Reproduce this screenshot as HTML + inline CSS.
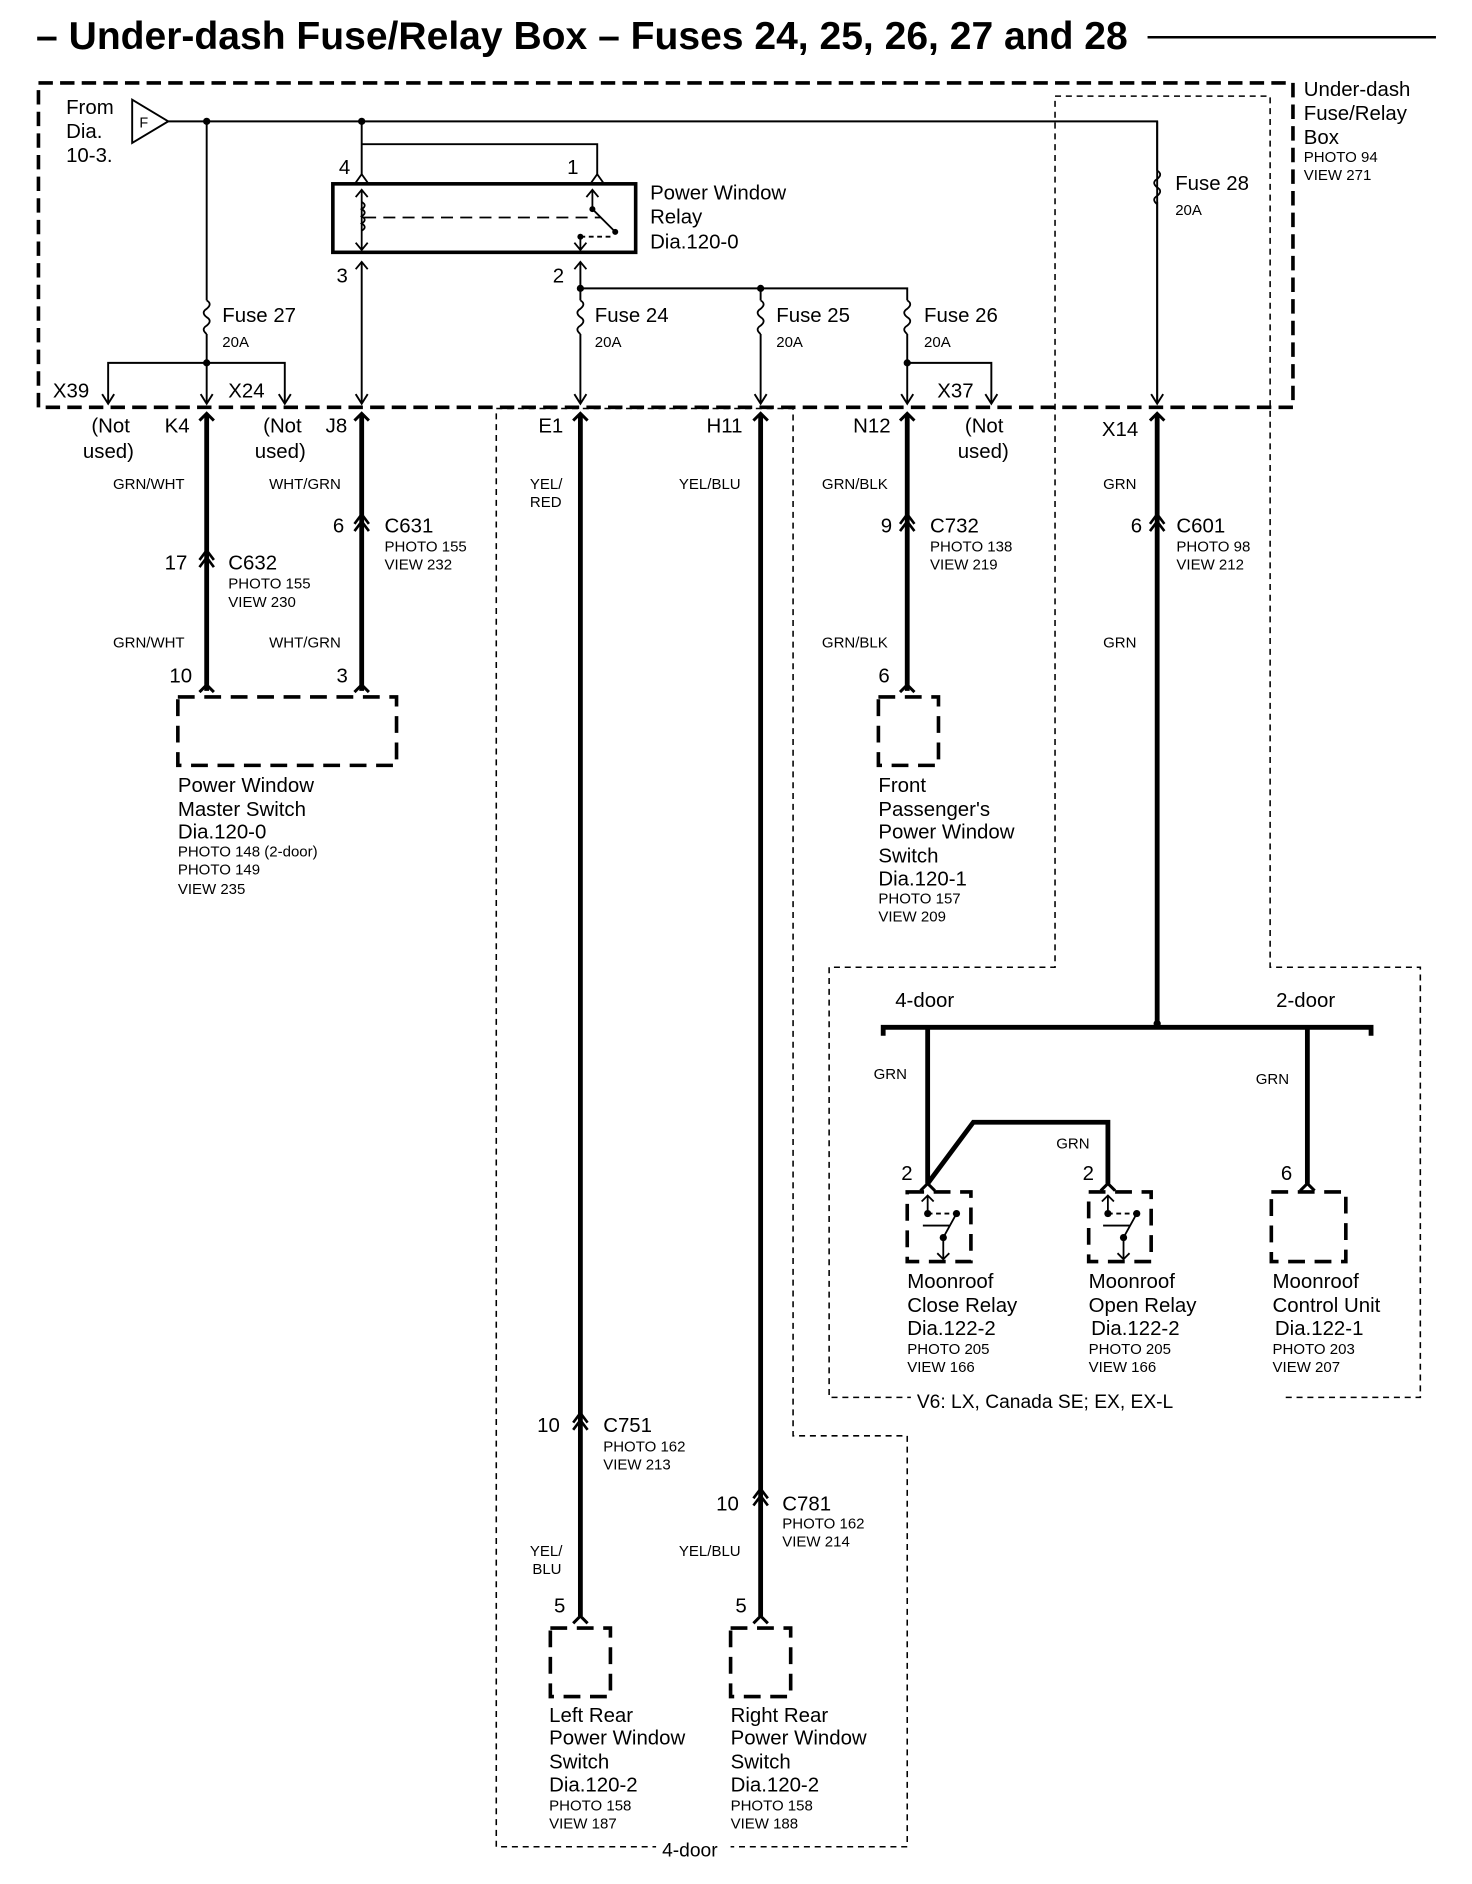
<!DOCTYPE html>
<html><head><meta charset="utf-8"><style>
html,body{margin:0;padding:0;background:#fff}
svg{display:block}
text{font-family:"Liberation Sans",Arial,sans-serif;fill:#000}
.l{font-size:17px}
.s{font-size:12.5px}
.w{font-size:12.5px}
</style></head><body>
<svg width="1472" height="1884" viewBox="0 0 1225 1568" preserveAspectRatio="none" xmlns="http://www.w3.org/2000/svg">
<g fill="none" stroke="#000">
<line x1="955" y1="31" x2="1195" y2="31" stroke-width="2"/>
<rect x="32" y="69" width="1044" height="270" stroke-width="3" stroke-dasharray="12,6"/>
<path d="M878 80 H1057 V805 H1182 V1163 H690 V805 H878 Z" stroke-width="1.3" stroke-dasharray="5,4"/>
<path d="M413 340 H660 V1195 H755 V1537 H413 Z" stroke-width="1.3" stroke-dasharray="5,4"/>
<g stroke-width="1.6">
<path d="M140 101 H963 V335"/>
<path d="M110 83 L140 101 L110 119 Z"/>
<path d="M172 101 V250 M172 278 V335"/>
<path d="M90 335 V302 H237 V335"/>
<path d="M301 101 V120 H497 V145 M301 120 V145"/>
<path d="M301 218 V335"/>
<path d="M483 218 V250 M483 278 V335"/>
<path d="M483 240 H755 V250 M755 278 V335"/>
<path d="M633 240 V250 M633 278 V335"/>
<path d="M755 302 H825 V335"/>
<path d="M963 101 V142 M963 168 V335"/>
</g>
<g stroke-width="1.5">
<path d="M172 250 q5 3 0 7 q-5 3 0 7 q5 3 0 7 q-5 3 0 7"/>
<path d="M483 250 q5 3 0 7 q-5 3 0 7 q5 3 0 7 q-5 3 0 7"/>
<path d="M633 250 q5 3 0 7 q-5 3 0 7 q5 3 0 7 q-5 3 0 7"/>
<path d="M755 250 q5 3 0 7 q-5 3 0 7 q5 3 0 7 q-5 3 0 7"/>
<path d="M963 142 q5 3 0 7 q-5 3 0 7 q5 3 0 7 q-5 3 0 7"/>
</g>
<g stroke-width="1.6">
<path d="M85 328 L90 336 L95 328 M232 328 L237 336 L242 328 M820 328 L825 336 L830 328"/>
<path d="M167 328 L172 336 L177 328 M296 328 L301 336 L306 328 M478 328 L483 336 L488 328 M628 328 L633 336 L638 328 M750 328 L755 336 L760 328 M958 328 L963 336 L968 328"/>
</g>
<rect x="277" y="153" width="252" height="57" stroke-width="3"/>
<g stroke-width="1.5">
<path d="M296 152 L301 145 L306 152 M492 152 L497 145 L502 152"/>
<path d="M296 224 L301 218 L306 224 M478 224 L483 218 L488 224"/>
<path d="M301 158 V208 M296 164 L301 158 L306 164 M296 202 L301 208 L306 202"/>
<path d="M301 168 q5 3 0 6 q5 3 0 6 q5 3 0 6 q5 3 0 6"/>
<path d="M303 181 H500" stroke-dasharray="10,6"/>
<path d="M493 158 V174 L512 193 M488 164 L493 158 L498 164"/>
<path d="M483 197 H510" stroke-dasharray="4,3"/>
<path d="M483 197 V208 M478 202 L483 208 L488 202"/>
</g>
<g stroke-width="4">
<path d="M172 345 V575 M301 345 V575 M483 345 V1345 M633 345 V1345 M755 345 V575 M963 345 V852"/>
<path d="M735 862 V855 H1141 V862"/>
<path d="M772 855 V985 M1088 855 V985"/>
<path d="M772 985 L810 934 H922 V985"/>
</g>
<g stroke-width="2.5">
<path d="M166 350 L172 344 L178 350 M295 350 L301 344 L307 350 M477 350 L483 344 L489 350 M627 350 L633 344 L639 350 M749 350 L755 344 L761 350 M957 350 L963 344 L969 350"/>
<path d="M166 576 L172 570 L178 576 M295 576 L301 570 L307 576 M749 576 L755 570 L761 576"/>
<path d="M477 1351 L483 1345 L489 1351 M627 1351 L633 1345 L639 1351"/>
<path d="M766 991 L772 985 L778 991 M916 991 L922 985 L928 991 M1082 991 L1088 985 L1094 991"/>
</g>
<g stroke-width="2.2">
<path d="M166 472 L172 464 L178 472 M166 466 L172 458 L178 466"/>
<path d="M295 442 L301 434 L307 442 M295 436 L301 428 L307 436"/>
<path d="M749 442 L755 434 L761 442 M749 436 L755 428 L761 436"/>
<path d="M957 442 L963 434 L969 442 M957 436 L963 428 L969 436"/>
<path d="M477 1190 L483 1182 L489 1190 M477 1184 L483 1176 L489 1184"/>
<path d="M627 1253 L633 1245 L639 1253 M627 1247 L633 1239 L639 1247"/>
</g>
<g stroke-width="3" stroke-dasharray="14,8">
<rect x="148" y="580" width="182" height="57"/>
<rect x="731" y="580" width="50" height="57"/>
<rect x="458" y="1355" width="50" height="57"/>
<rect x="608" y="1355" width="50" height="57"/>
<rect x="755" y="992" width="53" height="58"/>
<rect x="906" y="992" width="52" height="58"/>
<rect x="1058" y="992" width="62" height="58"/>
</g>
<g stroke-width="1.5">
<path d="M772 995 V1010 M767 1000 L772 995 L777 1000"/>
<path d="M772 1010 H796" stroke-dasharray="4,3"/>
<path d="M796 1010 L785 1030 M768 1020 H790" />
<path d="M785 1030 V1048 M780 1043 L785 1048 L790 1043"/>
<path d="M922 995 V1010 M917 1000 L922 995 L927 1000"/>
<path d="M922 1010 H946" stroke-dasharray="4,3"/>
<path d="M946 1010 L935 1030 M918 1020 H940"/>
<path d="M935 1030 V1048 M930 1043 L935 1048 L940 1043"/>
</g>
</g>
<rect x="758" y="1155" width="310" height="22" fill="#fff"/>
<rect x="546" y="1530" width="62" height="22" fill="#fff"/>
<g fill="#000">
<circle cx="172" cy="101" r="3"/><circle cx="301" cy="101" r="3"/>
<circle cx="172" cy="302" r="3"/><circle cx="755" cy="302" r="3"/>
<circle cx="483" cy="240" r="3"/><circle cx="633" cy="240" r="3"/>
<circle cx="493" cy="174" r="2.5"/><circle cx="512" cy="193" r="2.5"/><circle cx="483" cy="197" r="2.5"/>
<circle cx="963" cy="852" r="3"/>
<circle cx="772" cy="1010" r="3"/><circle cx="796" cy="1010" r="3"/><circle cx="785" cy="1030" r="3"/>
<circle cx="922" cy="1010" r="3"/><circle cx="946" cy="1010" r="3"/><circle cx="935" cy="1030" r="3"/>
</g>

<text x="30" y="41" style="font-size:32.5px;font-weight:bold">– Under-dash Fuse/Relay Box – Fuses 24, 25, 26, 27 and 28</text>

<g class="l">
<text x="55" y="95">From</text><text x="55" y="115">Dia.</text><text x="55" y="135">10-3.</text>
<text x="116" y="106" style="font-size:12px">F</text>
<text x="1085" y="80">Under-dash</text><text x="1085" y="100">Fuse/Relay</text><text x="1085" y="120">Box</text>
<text x="282" y="145">4</text><text x="472" y="145">1</text>
<text x="280" y="235">3</text><text x="460" y="235">2</text>
<text x="541" y="166">Power Window</text><text x="541" y="186">Relay</text><text x="541" y="207">Dia.120-0</text>
<text x="185" y="268">Fuse 27</text><text x="495" y="268">Fuse 24</text><text x="646" y="268">Fuse 25</text><text x="769" y="268">Fuse 26</text>
<text x="978" y="158">Fuse 28</text>
<text x="44" y="331">X39</text><text x="190" y="331">X24</text><text x="780" y="331">X37</text>
<text x="76" y="360">(Not</text><text x="69" y="381">used)</text>
<text x="137" y="360">K4</text>
<text x="219" y="360">(Not</text><text x="212" y="381">used)</text>
<text x="271" y="360">J8</text>
<text x="448" y="360">E1</text><text x="588" y="360">H11</text><text x="710" y="360">N12</text>
<text x="803" y="360">(Not</text><text x="797" y="381">used)</text>
<text x="917" y="363">X14</text>
<text x="277" y="443">6</text><text x="320" y="443">C631</text>
<text x="137" y="474">17</text><text x="190" y="474">C632</text>
<text x="733" y="443">9</text><text x="774" y="443">C732</text>
<text x="941" y="443">6</text><text x="979" y="443">C601</text>
<text x="141" y="568">10</text><text x="280" y="568">3</text><text x="731" y="568">6</text>
<text x="148" y="659">Power Window</text><text x="148" y="679">Master Switch</text><text x="148" y="698">Dia.120-0</text>
<text x="731" y="659">Front</text><text x="731" y="679">Passenger's</text><text x="731" y="698">Power Window</text><text x="731" y="718">Switch</text><text x="731" y="737">Dia.120-1</text>
<text x="745" y="838">4-door</text><text x="1062" y="838">2-door</text>
<text x="750" y="982">2</text><text x="901" y="982">2</text><text x="1066" y="982">6</text>
<text x="755" y="1072">Moonroof</text><text x="755" y="1092">Close Relay</text><text x="755" y="1111">Dia.122-2</text>
<text x="906" y="1072">Moonroof</text><text x="906" y="1092">Open Relay</text><text x="908" y="1111">Dia.122-2</text>
<text x="1059" y="1072">Moonroof</text><text x="1059" y="1092">Control Unit</text><text x="1061" y="1111">Dia.122-1</text>
<text x="763" y="1172" style="font-size:16px">V6: LX, Canada SE; EX, EX-L</text>
<text x="447" y="1192">10</text><text x="502" y="1192">C751</text>
<text x="596" y="1257">10</text><text x="651" y="1257">C781</text>
<text x="461" y="1342">5</text><text x="612" y="1342">5</text>
<text x="457" y="1433">Left Rear</text><text x="457" y="1452">Power Window</text><text x="457" y="1472">Switch</text><text x="457" y="1491">Dia.120-2</text>
<text x="608" y="1433">Right Rear</text><text x="608" y="1452">Power Window</text><text x="608" y="1472">Switch</text><text x="608" y="1491">Dia.120-2</text>
<text x="551" y="1545" style="font-size:16px">4-door</text>
</g>
<g class="s">
<text x="1085" y="135">PHOTO 94</text><text x="1085" y="150">VIEW 271</text>
<text x="185" y="289">20A</text><text x="495" y="289">20A</text><text x="646" y="289">20A</text><text x="769" y="289">20A</text><text x="978" y="179">20A</text>
<text x="320" y="459">PHOTO 155</text><text x="320" y="474">VIEW 232</text>
<text x="190" y="490">PHOTO 155</text><text x="190" y="505">VIEW 230</text>
<text x="774" y="459">PHOTO 138</text><text x="774" y="474">VIEW 219</text>
<text x="979" y="459">PHOTO 98</text><text x="979" y="474">VIEW 212</text>
<text x="148" y="713">PHOTO 148 (2-door)</text><text x="148" y="728">PHOTO 149</text><text x="148" y="744">VIEW 235</text>
<text x="731" y="752">PHOTO 157</text><text x="731" y="767">VIEW 209</text>
<text x="755" y="1127">PHOTO 205</text><text x="755" y="1142">VIEW 166</text>
<text x="906" y="1127">PHOTO 205</text><text x="906" y="1142">VIEW 166</text>
<text x="1059" y="1127">PHOTO 203</text><text x="1059" y="1142">VIEW 207</text>
<text x="502" y="1208">PHOTO 162</text><text x="502" y="1223">VIEW 213</text>
<text x="651" y="1272">PHOTO 162</text><text x="651" y="1287">VIEW 214</text>
<text x="457" y="1507">PHOTO 158</text><text x="457" y="1522">VIEW 187</text>
<text x="608" y="1507">PHOTO 158</text><text x="608" y="1522">VIEW 188</text>
</g>
<g class="w">
<text x="94" y="407">GRN/WHT</text><text x="224" y="407">WHT/GRN</text>
<text x="441" y="407">YEL/</text><text x="441" y="422">RED</text>
<text x="565" y="407">YEL/BLU</text><text x="684" y="407">GRN/BLK</text><text x="918" y="407">GRN</text>
<text x="94" y="539">GRN/WHT</text><text x="224" y="539">WHT/GRN</text><text x="684" y="539">GRN/BLK</text><text x="918" y="539">GRN</text>
<text x="727" y="898">GRN</text><text x="1045" y="902">GRN</text><text x="879" y="956">GRN</text>
<text x="441" y="1295">YEL/</text><text x="443" y="1310">BLU</text><text x="565" y="1295">YEL/BLU</text>
</g>
</svg>
</body></html>
